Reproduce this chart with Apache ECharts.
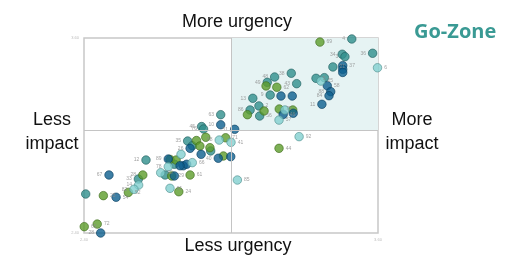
<!DOCTYPE html>
<html><head><meta charset="utf-8">
<script src="https://cdn.jsdelivr.net/npm/echarts@6/dist/echarts.min.js"></script>
<style>html,body{margin:0;padding:0;background:#fff}#c{width:512px;height:259px}</style>
</head><body><div id="c"></div>
<script>
// [urgency(x), impact(y), id]
const teal = [[3.493,3.594,'4'],[3.578,3.506,'36'],[3.454,3.500,'34'],[3.465,3.485,'3'],[3.416,3.422,'21'],
 [3.347,3.352,'5'],[3.381,3.356,''],[3.178,3.360,'48'],[3.246,3.383,'38'],[3.148,3.327,'49'],[3.268,3.319,'43'],
 [3.160,3.249,'9'],[3.089,3.229,'13'],[3.114,3.182,'2'],[3.078,3.157,'86'],[3.117,3.120,'56'],[2.958,3.128,'63'],
 [2.880,3.055,'45'],[2.888,3.040,'76'],[2.823,2.966,'35'],[2.842,2.937,''],[2.917,2.905,''],[2.653,2.849,'12'],
 [2.769,2.823,''],[2.731,2.757,''],[2.622,2.732,'33'],[2.407,2.640,'']];
const green = [[3.363,3.575,'69'],[3.143,3.305,''],[3.187,3.297,'62'],[3.135,3.151,''],[3.067,3.128,''],
 [3.197,3.163,'75'],[3.252,3.157,''],[3.196,2.921,'44'],[2.978,2.986,'71'],[2.859,2.969,''],[2.897,2.989,''],
 [2.873,2.935,''],[2.914,2.925,''],[2.969,2.874,''],[2.751,2.853,''],[2.776,2.849,''],[2.640,2.757,'28'],
 [2.758,2.751,'29'],[2.833,2.757,'61'],[2.581,2.650,'52'],[2.787,2.654,'24'],[2.479,2.630,'25'],
 [2.401,2.439,'65'],[2.454,2.455,'72']];
const blue = [[3.456,3.430,'37'],[3.456,3.407,''],[3.456,3.388,''],[3.393,3.306,'58'],[3.407,3.270,'88'],
 [3.400,3.245,'84'],[3.371,3.192,'11'],[3.204,3.243,''],[3.250,3.243,''],[3.213,3.130,'46'],[3.254,3.137,''],
 [3.015,3.038,'51'],[2.958,3.066,'10'],[2.833,2.921,'26'],[2.878,2.884,''],[2.948,2.860,'40'],[2.999,2.870,''],
 [2.744,2.855,'89'],[2.805,2.814,''],[2.819,2.823,''],[2.792,2.814,''],[2.502,2.757,'67'],[2.769,2.751,''],
 [2.531,2.620,'54'],[2.468,2.400,'28']];
const light = [[3.598,3.417,'6'],[3.367,3.335,'25'],[3.220,3.157,''],[3.196,3.095,'57'],[3.278,2.993,'92'],
 [3.000,2.958,'41'],[3.026,2.726,'85'],[2.952,2.972,'68'],[2.796,2.884,''],[2.744,2.808,'78'],[2.842,2.833,'66'],
 [2.713,2.771,'30'],[2.623,2.695,'14'],[2.604,2.669,'82'],[2.751,2.675,'81']];
const xRange = [2.4, 3.6], yRange = [2.4, 3.6];
const xMean = 3.004, yMean = 3.028;
const leftIds = new Set(['4','36','34','3','48','38','49','43','9','13','86','63','45','76','35','12','33','88','84','11','51','10','40','89','67','28','26','78','68','14','82']);

function mk(name, data, color, border) {
  return {
    name, type: 'scatter', symbolSize: 8.5,
    data: data.map(d => ({ value: d, label: leftIds.has(d[2]) ? { position: 'left' } : {} })),
    itemStyle: { color, borderColor: border, borderWidth: 0.8 },
    label: { show: true, formatter: p => p.value[2], fontSize: 5, color: '#8a8a8a',
      position: 'right', distance: 2, fontFamily: 'Liberation Sans' },
    encode: { x: 0, y: 1 }
  };
}
const series = [
  {
    type: 'scatter', data: [], silent: true,
    markArea: { silent: true, itemStyle: { color: '#e6f3f3' },
      data: [[{ coord: [xMean, yMean] }, { coord: [xRange[1], yRange[1]] }]] },
    markLine: { silent: true, symbol: 'none', label: { show: false },
      lineStyle: { color: '#c4c4c4', type: 'solid', width: 1 },
      data: [{ xAxis: xMean }, { yAxis: yMean }] }
  },
  mk('teal', teal, '#2f8f8c', '#1f5f5e'),
  mk('green', green, '#5c9c2a', '#3d6b1b'),
  mk('blue', blue, '#0d5f8f', '#093f60'),
  mk('light', light, '#82d0cf', '#4f8f8e')
];

const chart = echarts.init(document.getElementById('c'), null, { renderer: 'canvas' });
const font = '18px "Liberation Sans", "Open Sans", sans-serif';
chart.setOption({
  animation: false,
  grid: { left: 84, right: 134, top: 38, bottom: 26, show: true, borderColor: '#c8c8c8', borderWidth: 1.5, backgroundColor: 'transparent' },
  xAxis: { type: 'value', min: xRange[0], max: xRange[1], splitLine: { show: false },
    axisLine: { show: false }, axisTick: { show: false },
    axisLabel: { fontSize: 4, color: '#bbb', margin: 5, showMinLabel: true, showMaxLabel: true,
      formatter: v => (v === xRange[0] || v === xRange[1]) ? v.toFixed(2) : '' } },
  yAxis: { type: 'value', min: yRange[0], max: yRange[1], splitLine: { show: false },
    axisLine: { show: false }, axisTick: { show: false },
    axisLabel: { fontSize: 4, color: '#bbb', margin: 5,
      formatter: v => (v === yRange[0] || v === yRange[1]) ? v.toFixed(2) : '' } },
  graphic: [
    { type: 'text', x: 237, y: 22, style: { text: 'More urgency', font, fill: '#111', align: 'center', verticalAlign: 'middle' } },
    { type: 'text', x: 238, y: 246, style: { text: 'Less urgency', font, fill: '#111', align: 'center', verticalAlign: 'middle' } },
    { type: 'text', x: 52, y: 132, style: { text: 'Less\nimpact', font, fill: '#111', align: 'center', verticalAlign: 'middle', lineHeight: 24 } },
    { type: 'text', x: 412, y: 132, style: { text: 'More\nimpact', font, fill: '#111', align: 'center', verticalAlign: 'middle', lineHeight: 24 } },
    { type: 'text', left: 414, top: 22, style: { text: 'Go-Zone', font: 'bold 20px "Open Sans", "Liberation Sans", sans-serif', fill: '#3a9a94' } }
  ],
  series
});
</script></body></html>
